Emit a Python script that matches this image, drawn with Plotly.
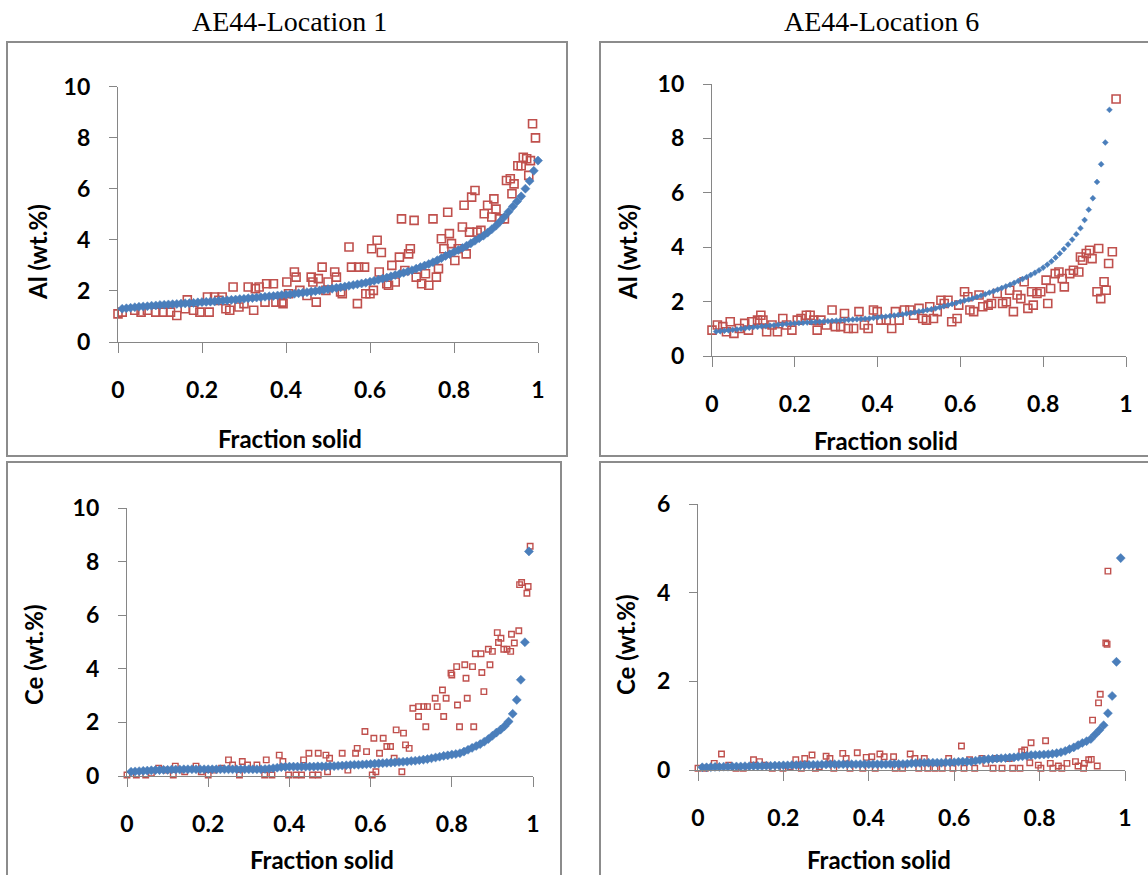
import plotly.graph_objects as go

W, H = 1148, 875

# ---------------- data ----------------
fs_grid = [0.01, 0.02, 0.03, 0.04, 0.05, 0.06, 0.07, 0.08, 0.09, 0.10,
           0.11, 0.12, 0.13, 0.14, 0.15, 0.16, 0.17, 0.18, 0.19, 0.20,
           0.21, 0.22, 0.23, 0.24, 0.25, 0.26, 0.27, 0.28, 0.29, 0.30,
           0.31, 0.32, 0.33, 0.34, 0.35, 0.36, 0.37, 0.38, 0.39, 0.40,
           0.41, 0.42, 0.43, 0.44, 0.45, 0.46, 0.47, 0.48, 0.49, 0.50,
           0.51, 0.52, 0.53, 0.54, 0.55, 0.56, 0.57, 0.58, 0.59, 0.60,
           0.61, 0.62, 0.63, 0.64, 0.65, 0.66, 0.67, 0.68, 0.69, 0.70,
           0.71, 0.72, 0.73, 0.74, 0.75, 0.76, 0.77, 0.78, 0.79, 0.80,
           0.81, 0.82, 0.83, 0.84, 0.85, 0.86, 0.87, 0.88, 0.89, 0.90,
           0.91, 0.92, 0.93, 0.94, 0.95, 0.96, 0.97, 0.98, 0.99, 1.00]

al_loc1_model = [1.30, 1.32, 1.34, 1.36, 1.38, 1.39, 1.40, 1.42, 1.43, 1.45,
                 1.46, 1.47, 1.48, 1.49, 1.50, 1.51, 1.52, 1.53, 1.55, 1.56,
                 1.57, 1.58, 1.59, 1.61, 1.62, 1.63, 1.65, 1.66, 1.68, 1.69,
                 1.71, 1.72, 1.74, 1.75, 1.77, 1.79, 1.80, 1.82, 1.84, 1.85,
                 1.87, 1.89, 1.91, 1.93, 1.95, 1.97, 1.99, 2.02, 2.04, 2.07,
                 2.09, 2.12, 2.14, 2.17, 2.20, 2.23, 2.26, 2.29, 2.32, 2.36,
                 2.40, 2.44, 2.48, 2.52, 2.57, 2.62, 2.66, 2.71, 2.76, 2.81,
                 2.87, 2.93, 2.99, 3.05, 3.12, 3.20, 3.28, 3.37, 3.44, 3.52,
                 3.60, 3.68, 3.77, 3.86, 3.96, 4.06, 4.16, 4.28, 4.41, 4.55,
                 4.72, 4.90, 5.10, 5.30, 5.50, 5.70, 6.00, 6.30, 6.70, 7.10]

al_loc6_model = [0.90, 0.91, 0.93, 0.94, 0.96, 0.98, 1.00, 1.02, 1.04, 1.06,
                 1.07, 1.09, 1.10, 1.12, 1.13, 1.15, 1.16, 1.18, 1.19, 1.20,
                 1.21, 1.22, 1.23, 1.24, 1.25, 1.26, 1.27, 1.28, 1.29, 1.30,
                 1.31, 1.32, 1.33, 1.34, 1.35, 1.36, 1.37, 1.38, 1.40, 1.42,
                 1.44, 1.45, 1.47, 1.49, 1.51, 1.53, 1.56, 1.58, 1.61, 1.64,
                 1.66, 1.69, 1.72, 1.75, 1.79, 1.83, 1.87, 1.91, 1.95, 2.00,
                 2.04, 2.08, 2.12, 2.17, 2.22, 2.27, 2.33, 2.38, 2.44, 2.50,
                 2.56, 2.62, 2.69, 2.76, 2.83, 2.90, 2.98, 3.06, 3.15, 3.25,
                 3.36, 3.48, 3.62, 3.77, 3.93, 4.10, 4.28, 4.48, 4.70, 5.00,
                 5.38, 5.80, 6.40, 7.05, 7.85, 9.05]

ce_loc1_model = [0.16, 0.17, 0.18, 0.19, 0.20, 0.21, 0.22, 0.22, 0.23, 0.23,
                 0.24, 0.24, 0.24, 0.25, 0.25, 0.25, 0.25, 0.25, 0.25, 0.25,
                 0.25, 0.25, 0.25, 0.25, 0.25, 0.25, 0.25, 0.25, 0.25, 0.25,
                 0.25, 0.25, 0.25, 0.26, 0.27, 0.29, 0.31, 0.33, 0.34, 0.35,
                 0.35, 0.35, 0.35, 0.35, 0.35, 0.35, 0.36, 0.36, 0.36, 0.37,
                 0.37, 0.38, 0.39, 0.40, 0.41, 0.42, 0.42, 0.43, 0.44, 0.45,
                 0.46, 0.47, 0.48, 0.49, 0.50, 0.51, 0.52, 0.53, 0.54, 0.56,
                 0.57, 0.59, 0.61, 0.63, 0.66, 0.69, 0.72, 0.75, 0.77, 0.80,
                 0.82, 0.85, 0.91, 0.98, 1.05, 1.12, 1.19, 1.28, 1.38, 1.50,
                 1.62, 1.73, 1.86, 2.03, 2.32, 2.84, 3.59, 4.99, 8.38]

ce_loc6_model = [0.06, 0.06, 0.065, 0.07, 0.07, 0.075, 0.075, 0.08, 0.08, 0.08,
                 0.085, 0.085, 0.09, 0.09, 0.09, 0.095, 0.095, 0.10, 0.10, 0.105,
                 0.105, 0.11, 0.11, 0.11, 0.115, 0.115, 0.12, 0.12, 0.125, 0.125,
                 0.13, 0.13, 0.13, 0.13, 0.13, 0.13, 0.13, 0.13, 0.13, 0.13,
                 0.13, 0.13, 0.13, 0.13, 0.135, 0.135, 0.135, 0.135, 0.14, 0.15,
                 0.155, 0.16, 0.165, 0.165, 0.165, 0.165, 0.165, 0.17, 0.17, 0.175,
                 0.185, 0.19, 0.19, 0.19, 0.21, 0.225, 0.235, 0.245, 0.25, 0.26,
                 0.265, 0.27, 0.28, 0.285, 0.30, 0.31, 0.32, 0.335, 0.34, 0.345,
                 0.35, 0.355, 0.365, 0.38, 0.40, 0.43, 0.47, 0.51, 0.56, 0.61,
                 0.65, 0.70, 0.80, 0.90, 1.01, 1.28, 1.67, 2.44, 4.78]

al_loc1_exp_fs = [0.00, 0.01, 0.04, 0.055, 0.07, 0.09, 0.107, 0.125, 0.14, 0.16,
                  0.165, 0.18, 0.195, 0.213, 0.217, 0.23, 0.24, 0.248, 0.257, 0.266,
                  0.274, 0.288, 0.30, 0.31, 0.323, 0.327, 0.336, 0.35, 0.354, 0.37,
                  0.376, 0.39, 0.393, 0.402, 0.406, 0.42, 0.424, 0.433, 0.45, 0.46,
                  0.464, 0.472, 0.477, 0.486, 0.495, 0.50, 0.516, 0.52, 0.53, 0.534,
                  0.55, 0.556, 0.57, 0.573, 0.587, 0.59, 0.60, 0.604, 0.608, 0.617,
                  0.622, 0.627, 0.64, 0.644, 0.652, 0.66, 0.67, 0.675, 0.683, 0.692,
                  0.696, 0.705, 0.71, 0.723, 0.732, 0.74, 0.75, 0.758, 0.763, 0.77,
                  0.776, 0.785, 0.789, 0.794, 0.802, 0.81, 0.82, 0.824, 0.829, 0.837,
                  0.842, 0.85, 0.855, 0.864, 0.872, 0.88, 0.89, 0.895, 0.90, 0.908,
                  0.92, 0.925, 0.934, 0.938, 0.943, 0.952, 0.96, 0.965, 0.973, 0.978,
                  0.982, 0.987, 0.994]
al_loc1_exp = [1.10, 1.17, 1.24, 1.17, 1.24, 1.17, 1.17, 1.17, 1.04, 1.30,
               1.65, 1.24, 1.17, 1.76, 1.17, 1.76, 1.63, 1.76, 1.30, 1.24,
               2.15, 1.37, 1.50, 2.15, 1.24, 2.09, 2.15, 1.56, 2.28, 2.28,
               1.56, 1.56, 1.50, 2.35, 1.89, 2.74, 2.54, 2.02, 1.82, 2.54,
               2.35, 1.56, 2.48, 2.93, 2.02, 2.35, 2.74, 2.54, 1.96, 1.89,
               3.72, 2.93, 1.50, 2.93, 2.93, 1.89, 1.89, 3.65, 2.02, 3.98,
               2.74, 3.50, 2.28, 2.22, 3.00, 2.35, 3.32, 4.82, 2.80, 3.45,
               3.65, 4.76, 2.54, 2.28, 2.67, 2.22, 4.82, 2.54, 2.87, 4.04,
               3.65, 5.08, 4.24, 3.85, 3.19, 3.65, 4.50, 5.35, 3.45, 4.30,
               5.67, 5.93, 4.30, 4.37, 5.02, 5.35, 4.89, 5.60, 5.20, 4.82,
               4.82, 6.32, 6.39, 5.80, 6.19, 6.90, 6.90, 7.23, 7.17, 6.52,
               7.10, 8.54, 7.99]

al_loc6_exp_fs = [0.0, 0.013, 0.026, 0.035, 0.044, 0.053, 0.066, 0.079, 0.088, 0.096,
                  0.11, 0.118, 0.123, 0.132, 0.145, 0.158, 0.171, 0.18, 0.193, 0.206,
                  0.215, 0.228, 0.237, 0.246, 0.254, 0.263, 0.276, 0.29, 0.298, 0.311,
                  0.32, 0.329, 0.342, 0.355, 0.368, 0.377, 0.39, 0.399, 0.408, 0.421,
                  0.434, 0.443, 0.452, 0.465, 0.478, 0.487, 0.5, 0.509, 0.518, 0.526,
                  0.535, 0.544, 0.553, 0.561, 0.57, 0.579, 0.592, 0.596, 0.61, 0.618,
                  0.623, 0.632, 0.645, 0.654, 0.667, 0.675, 0.689, 0.702, 0.711, 0.719,
                  0.728, 0.737, 0.746, 0.754, 0.763, 0.772, 0.776, 0.785, 0.794, 0.807,
                  0.811, 0.818, 0.829, 0.838, 0.846, 0.851, 0.864, 0.873, 0.886, 0.89,
                  0.895, 0.904, 0.912, 0.918, 0.93, 0.934, 0.939, 0.947, 0.952, 0.958,
                  0.967, 0.976]
al_loc6_exp = [0.95, 1.14, 1.08, 0.89, 1.26, 0.83, 1.01, 1.20, 0.95, 1.26,
               1.32, 1.50, 1.32, 0.89, 1.14, 0.89, 1.38, 1.14, 0.95, 1.32,
               1.38, 1.50, 1.50, 1.32, 0.95, 1.32, 1.14, 1.69, 1.08, 1.08,
               1.56, 1.01, 1.01, 1.63, 1.14, 1.01, 1.69, 1.63, 1.32, 1.32,
               1.01, 1.63, 1.32, 1.69, 1.69, 1.50, 1.75, 1.38, 1.32, 1.81,
               1.38, 1.63, 2.05, 1.93, 2.05, 1.26, 1.38, 1.87, 2.36, 2.18,
               1.69, 1.63, 2.24, 1.81, 1.87, 1.93, 2.30, 1.93, 1.99, 2.42,
               1.63, 2.24, 2.11, 2.73, 1.75, 2.36, 1.87, 2.30, 2.36, 2.79,
               1.93, 2.48, 3.03, 3.09, 2.85, 2.54, 3.03, 3.15, 3.09, 3.64,
               3.52, 3.77, 3.89, 3.58, 2.36, 3.95, 2.11, 2.73, 2.42, 3.40,
               3.83, 9.45]

ce_loc1_exp_fs = [0.0, 0.023, 0.046, 0.06, 0.078, 0.096, 0.114, 0.119, 0.142, 0.17,
                  0.183, 0.2, 0.215, 0.233, 0.25, 0.26, 0.277, 0.284, 0.297, 0.32,
                  0.339, 0.343, 0.357, 0.375, 0.384, 0.398, 0.416, 0.43, 0.435, 0.448,
                  0.457, 0.471, 0.471, 0.49, 0.494, 0.499, 0.53, 0.544, 0.563, 0.567,
                  0.59, 0.586, 0.604, 0.608, 0.613, 0.622, 0.631, 0.64, 0.649, 0.658,
                  0.663, 0.677, 0.681, 0.686, 0.695, 0.704, 0.718, 0.718, 0.731, 0.736,
                  0.74, 0.759, 0.764, 0.777, 0.78, 0.786, 0.798, 0.8, 0.812, 0.814,
                  0.819, 0.832, 0.835, 0.838, 0.851, 0.854, 0.858, 0.872, 0.874, 0.879,
                  0.89, 0.894, 0.9, 0.912, 0.915, 0.921, 0.928, 0.936, 0.945, 0.947,
                  0.954, 0.965, 0.967, 0.972, 0.988, 0.985, 0.993]
ce_loc1_exp = [0.04, 0.04, 0.04, 0.10, 0.29, 0.22, 0.04, 0.37, 0.16, 0.37,
               0.16, 0.04, 0.22, 0.29, 0.60, 0.41, 0.04, 0.54, 0.41, 0.41,
               0.04, 0.60, 0.04, 0.78, 0.54, 0.04, 0.04, 0.04, 0.60, 0.85,
               0.04, 0.85, 0.04, 0.78, 0.16, 0.66, 0.85, 0.22, 0.85, 1.03,
               0.91, 1.66, 0.04, 1.41, 0.16, 0.85, 1.41, 1.10, 1.10, 0.66,
               1.72, 0.16, 1.60, 1.16, 1.03, 2.53, 2.22, 2.59, 2.59, 1.84,
               2.59, 2.90, 2.59, 3.21, 2.22, 2.90, 3.84, 3.77, 4.08, 2.65,
               1.84, 4.15, 3.65, 2.90, 4.08, 1.84, 4.56, 4.56, 3.86, 3.15,
               4.73, 4.15, 4.65, 5.35, 4.98, 5.14, 4.73, 4.73, 4.65, 5.29,
               4.96, 5.42, 7.14, 7.22, 7.07, 6.82, 8.57]

ce_loc6_exp_fs = [0.0, 0.017, 0.038, 0.055, 0.072, 0.089, 0.106, 0.13, 0.144, 0.157,
                  0.174, 0.199, 0.216, 0.229, 0.242, 0.25, 0.267, 0.275, 0.284, 0.3,
                  0.309, 0.318, 0.339, 0.347, 0.356, 0.373, 0.386, 0.394, 0.407, 0.415,
                  0.426, 0.436, 0.458, 0.462, 0.479, 0.497, 0.508, 0.517, 0.53, 0.538,
                  0.555, 0.572, 0.587, 0.597, 0.617, 0.623, 0.636, 0.648, 0.665, 0.674,
                  0.691, 0.698, 0.712, 0.729, 0.737, 0.754, 0.758, 0.765, 0.777, 0.78,
                  0.797, 0.803, 0.814, 0.825, 0.831, 0.844, 0.852, 0.864, 0.884, 0.89,
                  0.903, 0.905, 0.915, 0.921, 0.924, 0.935, 0.938, 0.942, 0.955, 0.958,
                  0.96]
ce_loc6_exp = [0.04, 0.04, 0.15, 0.36, 0.11, 0.04, 0.04, 0.23, 0.19, 0.11,
               0.04, 0.04, 0.075, 0.23, 0.04, 0.26, 0.34, 0.04, 0.075, 0.31,
               0.26, 0.04, 0.375, 0.26, 0.04, 0.39, 0.04, 0.285, 0.30, 0.04,
               0.36, 0.30, 0.30, 0.04, 0.04, 0.36, 0.26, 0.04, 0.26, 0.04,
               0.04, 0.04, 0.26, 0.04, 0.54, 0.04, 0.23, 0.04, 0.26, 0.15,
               0.04, 0.26, 0.04, 0.26, 0.04, 0.04, 0.41, 0.45, 0.165, 0.615,
               0.11, 0.04, 0.66, 0.15, 0.04, 0.09, 0.04, 0.15, 0.19, 0.09,
               0.04, 0.15, 0.23, 0.24, 1.125, 0.09, 1.515, 1.71, 2.865, 2.835,
               4.485]

x_ticks = [0, 0.2, 0.4, 0.6, 0.8, 1]
x_tick_text = ["0", "0.2", "0.4", "0.6", "0.8", "1"]
panel_titles = ["AE44-Location 1", "AE44-Location 6"]
x_title = "Fraction solid"
y_titles = ["Al (wt.%)", "Al (wt.%)", "Ce (wt.%)", "Ce (wt.%)"]

# ---------------- styling ----------------
BLUE = "#4A7EBB"
RED = "#C0504D"
AXIS = "#868686"
BOX = "#8C8C8C"
SANS = "Lato"
SERIF = "Liberation Serif"


def px(x):
    return x / W


def py(y):
    return 1 - y / H


# plot areas in pixels: (left, right), (top, bottom), y range
panels = [
    dict(x=(118, 538), y=(86.5, 342), yr=[0, 10], yt=[0, 2, 4, 6, 8, 10]),
    dict(x=(712, 1126), y=(84, 356), yr=[0, 10], yt=[0, 2, 4, 6, 8, 10]),
    dict(x=(127, 533), y=(508, 776), yr=[0, 10], yt=[0, 2, 4, 6, 8, 10]),
    dict(x=(698, 1125), y=(504, 770), yr=[0, 6], yt=[0, 2, 4, 6]),
]

series = [
    (al_loc1_exp_fs, al_loc1_exp, al_loc1_model, 8, 1.6, 7),
    (al_loc6_exp_fs, al_loc6_exp, al_loc6_model, 8, 1.6, 4.5),
    (ce_loc1_exp_fs, ce_loc1_exp, ce_loc1_model, 5.5, 1.4, 7),
    (ce_loc6_exp_fs, ce_loc6_exp, ce_loc6_model, 5.5, 1.4, 7),
]

fig = go.Figure()
for i, (efs, eval_, model, ssize, swidth, dsize) in enumerate(series):
    k = "" if i == 0 else str(i + 1)
    fig.add_trace(go.Scatter(
        x=efs, y=eval_, mode="markers", xaxis="x" + k, yaxis="y" + k,
        marker=dict(symbol="square-open", size=ssize, color=RED,
                    line=dict(width=swidth, color=RED)),
        cliponaxis=False, showlegend=False, hoverinfo="skip"))
    fig.add_trace(go.Scatter(
        x=fs_grid[:len(model)], y=model, mode="markers",
        xaxis="x" + k, yaxis="y" + k,
        marker=dict(symbol="diamond", size=dsize, color=BLUE,
                    line=dict(width=0.5, color=BLUE)),
        cliponaxis=False, showlegend=False, hoverinfo="skip"))

layout = dict(
    width=W, height=H, autosize=False,
    margin=dict(l=0, r=0, t=0, b=0, pad=0, autoexpand=False),
    paper_bgcolor="white", plot_bgcolor="rgba(0,0,0,0)",
    showlegend=False,
)

tickfont = dict(family=SANS, size=23, color="black", weight="bold")
for i, p in enumerate(panels):
    k = "" if i == 0 else str(i + 1)
    layout["xaxis" + k] = dict(
        domain=[px(p["x"][0]), px(p["x"][1])], anchor="y" + k,
        range=[0, 1], tickvals=x_ticks, ticktext=x_tick_text,
        showline=True, linecolor=AXIS, linewidth=1.3,
        ticks="outside", ticklen=10, tickwidth=1.3, tickcolor=AXIS,
        ticklabelstandoff=17, automargin=False,
        showgrid=False, zeroline=False, tickfont=tickfont, fixedrange=True)
    layout["yaxis" + k] = dict(
        domain=[py(p["y"][1]), py(p["y"][0])], anchor="x" + k,
        range=p["yr"], tickvals=p["yt"],
        showline=True, linecolor=AXIS, linewidth=1.3,
        ticks="outside", ticklen=8, tickwidth=1.3, tickcolor=AXIS,
        ticklabelstandoff=14, automargin=False,
        showgrid=False, zeroline=False, tickfont=tickfont, fixedrange=True)

fig.update_layout(**layout)

# panel boxes
boxes = [(7, 42, 567, 456), (600, 42, 1152, 456),
         (7, 462, 561, 880), (600, 462, 1152, 880)]
for x0, y0, x1, y1 in boxes:
    fig.add_shape(type="rect", xref="paper", yref="paper",
                  x0=px(x0), x1=px(x1), y0=py(y1), y1=py(y0),
                  line=dict(color=BOX, width=2), fillcolor="rgba(0,0,0,0)",
                  layer="below")

# panel titles
for text, cx in zip(panel_titles, [289, 881]):
    fig.add_annotation(text=text, xref="paper", yref="paper",
                       x=px(cx), y=py(22), xanchor="center", yanchor="middle",
                       showarrow=False,
                       font=dict(family=SERIF, size=28, color="black"))

# axis titles
xt_pos = [(290, 439), (886, 440), (322, 859), (879, 859)]
yt_pos = [(37, 252), (627, 252), (33, 655), (625, 645)]
for i in range(4):
    fig.add_annotation(text=x_title, xref="paper", yref="paper",
                       x=px(xt_pos[i][0]), y=py(xt_pos[i][1]),
                       xanchor="center", yanchor="middle", showarrow=False,
                       font=dict(family=SANS, size=24, color="black",
                                 weight="bold"))
    fig.add_annotation(text=y_titles[i], xref="paper", yref="paper",
                       x=px(yt_pos[i][0]), y=py(yt_pos[i][1]),
                       xanchor="center", yanchor="middle", showarrow=False,
                       textangle=-90,
                       font=dict(family=SANS, size=24, color="black",
                                 weight="bold"))

fig.write_html("out.html")
